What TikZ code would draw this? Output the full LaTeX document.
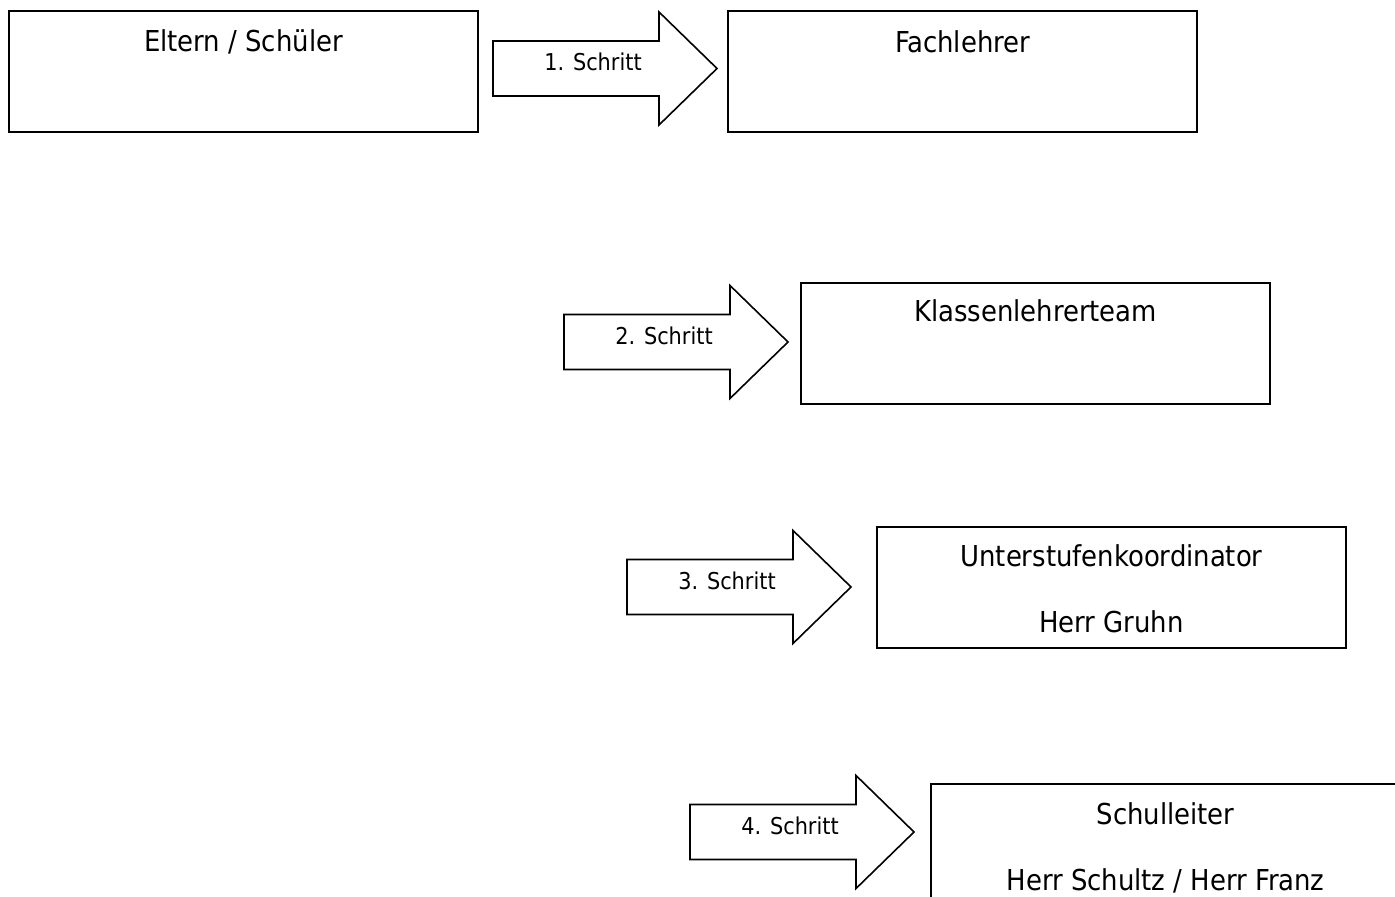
\documentclass[tikz,border=0pt]{standalone}
\usepackage{fontspec}
\setmainfont{DejaVu Sans Condensed}
\usetikzlibrary{calc}

\tikzset{
  kasten/.style={draw,line width=1pt,anchor=north west,minimum width=234.5pt,minimum height=60.5pt,inner sep=0pt},
  titel/.style={inner sep=0pt,font=\fontsize{14.4}{16}\selectfont},
  pfeil/.style={draw,line width=0.8pt,line join=miter},
  pfeiltext/.style={inner sep=0pt,font=\fontsize{11.6}{13}\selectfont}
}

% block arrow: name, tail (middle of left end), label
\newcommand{\schritt}[3]{%
  \draw[pfeil] (#2) ++(0,-27.5) -- ++(166,0) -- ++(0,-29) -- ++(58,56.5)
    -- ++(-58,56.5) -- ++(0,-29) -- ++(-166,0) -- cycle;
  \node[pfeiltext] (#1) at ($(#2)+(100,-6.5)$) {#3};
}

\begin{document}
\begin{tikzpicture}[x=0.5pt,y=-0.5pt]
  \useasboundingbox (0,0) rectangle (1395,897);

  \node[kasten] (eltern) at (8,10) {};
  \node[kasten] (fach) at (727,10) {};
  \node[kasten] (klasse) at (800,282) {};
  \node[kasten] (unter) at (876,526) {};
  \node[kasten] (leiter) at (930,783) {};

  \node[titel] (eltern-t) at ([yshift=-16pt]eltern.north) {Eltern / Schüler};
  \node[titel] (fach-t) at ([yshift=-16pt]fach.north) {Fachlehrer};
  \node[titel] (klasse-t) at ([yshift=-14.5pt]klasse.north) {Klassenlehrerteam};
  \node[titel] (unter-t) at ([yshift=-15pt]unter.north) {Unterstufenkoordinator};
  \node[titel] (unter-n) at ([yshift=-48pt]unter.north) {Herr Gruhn};
  \node[titel] (leiter-t) at ([yshift=-15.5pt]leiter.north) {Schulleiter};
  \node[titel] (leiter-n) at ([yshift=-49pt]leiter.north) {Herr Schultz / Herr Franz};

  \coordinate (p1) at (493,68.5);
  \coordinate (p2) at (564,342);
  \coordinate (p3) at (627,587);
  \coordinate (p4) at (690,832);
  \schritt{s1}{p1}{1. Schritt}
  \schritt{s2}{p2}{2. Schritt}
  \schritt{s3}{p3}{3. Schritt}
  \schritt{s4}{p4}{4. Schritt}
\end{tikzpicture}
\end{document}
